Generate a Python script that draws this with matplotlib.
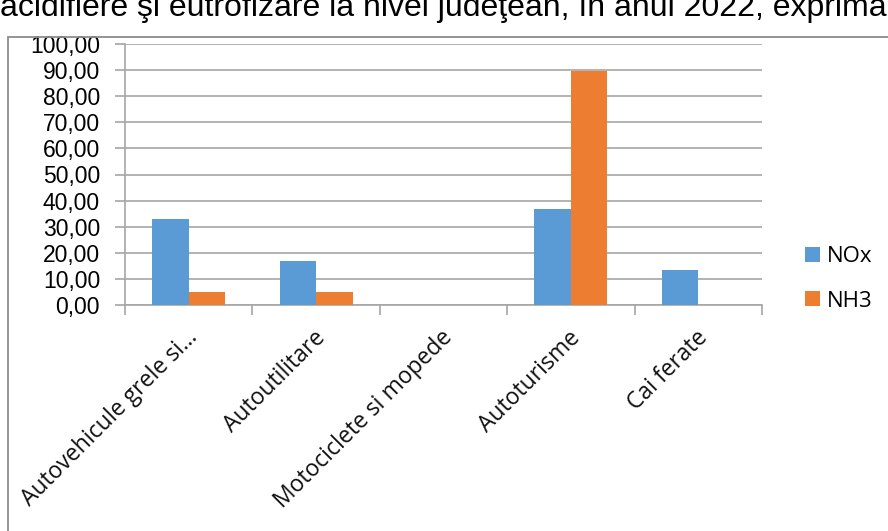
import numpy as np
import matplotlib
matplotlib.use('Agg')
import matplotlib.pyplot as plt
from matplotlib.ticker import FuncFormatter
from matplotlib.patches import Rectangle

# date
categorii = ['Autovehicule grele si...', 'Autoutilitare', 'Motociclete si mopede',
             'Autoturisme', 'Cai ferate']
nox = [32.9, 16.9, 0.0, 36.7, 13.4]
nh3 = [5.0, 5.1, 0.0, 89.6, 0.0]
titlu = 'acidifiere şi eutrofizare la nivel judeţean, în anul 2022, exprima'

c_nox = '#5B9BD5'
c_nh3 = '#ED7D31'
gri = '#a6a6a6'

fig = plt.figure(figsize=(8.88, 5.31), dpi=100)
ax = fig.add_axes([125/888, 1-305/531, 637/888, 261/531])

x = np.arange(len(categorii))
w = 0.287
ax.bar(x - w/2, nox, w, color=c_nox, label='NOx', zorder=3)
ax.bar(x + w/2, nh3, w, color=c_nh3, label='NH3', zorder=3)

ax.set_xlim(-0.5, len(categorii) - 0.5)
ax.set_ylim(0, 100)
ax.set_yticks(np.arange(0, 101, 10))
ax.yaxis.set_major_formatter(FuncFormatter(lambda v, p: f'{v:.2f}'.replace('.', ',')))
ax.grid(axis='y', color=gri, linewidth=1.2, zorder=0)

for s in ['top', 'right']:
    ax.spines[s].set_visible(False)
ax.spines['left'].set_color(gri)
ax.spines['bottom'].set_color(gri)
ax.spines['left'].set_linewidth(1.2)
ax.spines['bottom'].set_linewidth(1.2)

# tick-uri x la marginile categoriilor
ax.set_xticks(np.arange(-0.5, len(categorii)))
ax.set_xticklabels([])
ax.tick_params(axis='x', length=7, color=gri, width=1.2)
ax.tick_params(axis='y', length=7, color=gri, width=1.2, labelsize=16.5, pad=11)
for t in ax.get_yticklabels():
    t.set_family('Liberation Sans')

for i, lab in enumerate(categorii):
    ax.annotate(lab, xy=(i, 0), xycoords='data', xytext=(-2, -15), textcoords='offset points',
                rotation=45, ha='right', va='top', rotation_mode='anchor',
                fontsize=16.5, family='Open Sans', color='#111111')

leg = ax.legend(loc='center left', bbox_to_anchor=(1.036, 0.1), frameon=False,
                handlelength=0.68, handleheight=0.68, labelspacing=1.05,
                handletextpad=0.3, prop={'family': 'Open Sans', 'size': 16})

# chenarul graficului (decupat)
fig.patches.append(Rectangle((8/888, -0.1), 1.0, 1 - 37/531 + 0.1, transform=fig.transFigure,
                             fill=False, edgecolor='#8c8c8c', linewidth=1.3))

fig.text(0.0, 1 - 8/531, titlu, ha='left', va='center', fontsize=23,
         family='Liberation Sans', color='black')

fig.savefig('out.png', dpi=100)
